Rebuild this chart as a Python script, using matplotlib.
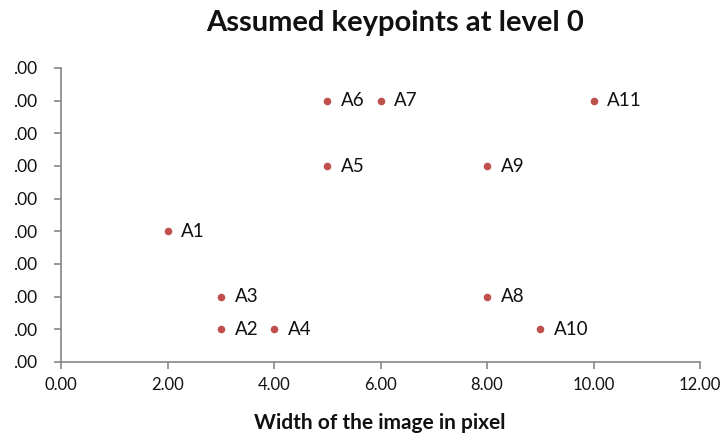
import matplotlib
matplotlib.use('Agg')
import matplotlib.pyplot as plt
from matplotlib.ticker import FuncFormatter

# keypoints
labels = ['A1', 'A2', 'A3', 'A4', 'A5', 'A6', 'A7', 'A8', 'A9', 'A10', 'A11']
xs = [2, 3, 3, 4, 5, 5, 6, 8, 8, 9, 10]
ys = [4, 1, 2, 1, 6, 8, 8, 2, 6, 1, 8]

TITLE = 'Assumed keypoints at level 0'
XLABEL = 'Width of the image in pixel'

plt.rcParams['font.family'] = ['Lato', 'DejaVu Sans']

fig = plt.figure(figsize=(7.21, 4.38), dpi=100)
ax = fig.add_axes([61/721, 76/438, 639/721, 294/438])

ax.scatter(xs, ys, s=30, color='#C0504D', zorder=3, linewidths=0)
for lab, x, y in zip(labels, xs, ys):
    ax.annotate(lab, (x, y), xytext=(10, 0), textcoords='offset points',
                va='center', ha='left', fontsize=13.5, color='#111111')

ax.set_xlim(0, 12)
ax.set_ylim(0, 9)
ax.set_xticks(range(0, 13, 2))
ax.set_yticks(range(0, 10))
ax.xaxis.set_major_formatter(FuncFormatter(lambda v, p: f'{v:.2f}'))
# the reference image is cropped on the left, only the decimals of the y labels remain
ax.yaxis.set_major_formatter(FuncFormatter(lambda v, p: f'{v:.2f}'[1:]))

for s in ['top', 'right']:
    ax.spines[s].set_visible(False)
for s in ['left', 'bottom']:
    ax.spines[s].set_color('#868686')
    ax.spines[s].set_linewidth(1.2)
ax.tick_params(direction='out', length=5, width=1.2, color='#868686',
               labelsize=12.5, labelcolor='#111111')
ax.tick_params(axis='x', labelsize=12)
ax.tick_params(axis='y', pad=12.5)
ax.tick_params(axis='x', pad=6)

fig.text(395/721, 1 - 23/438, TITLE, ha='center', va='center',
         fontsize=21, fontweight='bold', color='#111111')
fig.text(380/721, 1 - 423/438, XLABEL, ha='center', va='center',
         fontsize=15, fontweight='bold', color='#111111')

fig.savefig('out.png', dpi=100)
